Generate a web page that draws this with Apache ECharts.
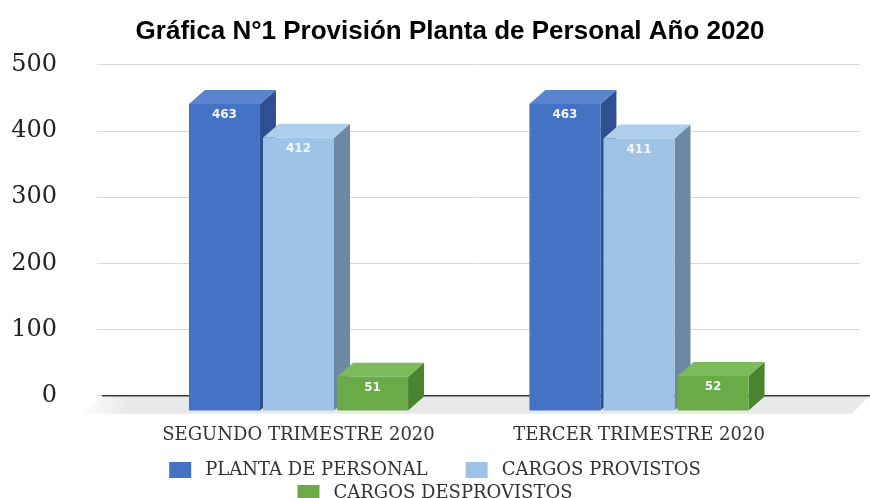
<!DOCTYPE html>
<html>
<head>
<meta charset="utf-8">
<script src="https://cdn.jsdelivr.net/npm/echarts@6/dist/echarts.min.js"></script>
<style>html,body{margin:0;padding:0;background:#fff;}#c{width:870px;height:498px;}</style>
</head>
<body>
<div id="c"></div>
<script>
const categories = ['SEGUNDO TRIMESTRE 2020', 'TERCER TRIMESTRE 2020'];
const seriesNames = ['PLANTA DE PERSONAL', 'CARGOS PROVISTOS', 'CARGOS DESPROVISTOS'];
const plantaPersonal = [463, 463];
const cargosProvistos = [412, 411];
const cargosDesprovistos = [51, 52];
const yTicks = [0, 100, 200, 300, 400, 500];

const palettes = [
  {front: '#4472C4', top: '#5A84CE', side: '#2E5090'},
  {front: '#9DC3E6', top: '#AECFEC', side: '#6C88A2'},
  {front: '#6AAB47', top: '#7DBA5C', side: '#4A8431'}
];
const DX = 16, DY = -14;

function barRenderer(idx) {
  const pal = palettes[idx];
  return function (params, api) {
    const cat = api.value(0), val = api.value(1);
    const base = api.coord([cat, 0]);
    const top = api.coord([cat, val]);
    const band = api.size([1, 0])[0];
    const pitch = band * 0.2175, w = band * 0.2085;
    const cx = base[0] + (idx - 1) * pitch;
    const x0 = cx - w / 2, x1 = cx + w / 2, yT = top[1], yB = base[1];
    return {
      type: 'group',
      children: [
        {type: 'polygon', shape: {points: [[x1, yT], [x1 + DX, yT + DY], [x1 + DX, yB + DY], [x1, yB]]}, style: {fill: pal.side}},
        {type: 'polygon', shape: {points: [[x0, yT], [x0 + DX, yT + DY], [x1 + DX, yT + DY], [x1, yT]]}, style: {fill: pal.top}},
        {type: 'rect', shape: {x: x0, y: yT, width: w, height: yB - yT}, style: {fill: pal.front}},
        {type: 'text', style: {text: String(val), x: cx, y: yT + 11, align: 'center', verticalAlign: 'middle', fill: '#F4F6FA', font: 'bold 12px "DejaVu Sans"'}}
      ]
    };
  };
}

function floorRenderer(params, api) {
  const cs = params.coordSys;
  const y0 = api.coord([0, 0])[1];
  const xl = cs.x + 5, xr = cs.x + cs.width + 10;
  return {
    type: 'group',
    children: [
      {type: 'polygon', shape: {points: [[xl, y0], [xr, y0], [xr - 18, y0 + 18], [xl - 22, y0 + 18]]},
       style: {fill: new echarts.graphic.LinearGradient(0, 0, 1, 0, [
         {offset: 0, color: '#ffffff'}, {offset: 0.06, color: '#e9e9e9'}, {offset: 1, color: '#e9e9e9'}])}},
      {type: 'line', shape: {x1: xl, y1: y0, x2: xr, y2: y0}, style: {stroke: '#3a3a3a', lineWidth: 1.5}}
    ]
  };
}

const dataSets = [plantaPersonal, cargosProvistos, cargosDesprovistos];
const legendText = {fontFamily: 'DejaVu Serif', fontSize: 18, color: '#333', padding: [0, 0, 0, 9]};

const chart = echarts.init(document.getElementById('c'));
chart.setOption({
  backgroundColor: '#ffffff',
  animation: false,
  title: {
    text: 'Gráfica N°1 Provisión Planta de Personal Año 2020',
    left: 445, top: 14, textAlign: 'center',
    textStyle: {fontFamily: 'Liberation Sans', fontWeight: 'bold', fontSize: 26, color: '#000'}
  },
  legend: [
    {data: [seriesNames[0], seriesNames[1]], left: 'center', top: 456, icon: 'rect', itemWidth: 22, itemHeight: 16, itemGap: 38,
     textStyle: legendText},
    {data: [seriesNames[2]], left: 'center', top: 479, icon: 'rect', itemWidth: 22, itemHeight: 16,
     textStyle: legendText}
  ],
  grid: [
    {left: 97, right: 10, top: 64.7, bottom: 102.3},
    {left: 128.25, right: 60.75, top: 79.5, bottom: 87.5}
  ],
  xAxis: [
    {type: 'value', gridIndex: 0, min: 0, max: 1, show: false},
    {type: 'category', gridIndex: 1, data: categories, axisLine: {show: false}, axisTick: {show: false},
     axisLabel: {interval: 0, hideOverlap: false, margin: 16, fontFamily: 'DejaVu Serif', fontSize: 18, color: '#333'}}
  ],
  yAxis: [
    {type: 'value', gridIndex: 0, min: 0, max: 500, interval: 100,
     axisLine: {show: false}, axisTick: {show: false},
     axisLabel: {margin: 40, fontFamily: 'DejaVu Serif', fontSize: 24, color: '#222',
       formatter: v => yTicks.includes(v) ? String(v) : ''},
     splitLine: {lineStyle: {color: '#d9d9d9', width: 1}}},
    {type: 'value', gridIndex: 1, min: 0, max: 500, interval: 100, show: false, splitLine: {show: false}}
  ],
  series: [
    {type: 'custom', name: 'floor', xAxisIndex: 0, yAxisIndex: 0, z: 1, silent: true,
     renderItem: floorRenderer, data: [[0, 0]]}
  ].concat(seriesNames.map((name, i) => ({
    type: 'custom', name: name, xAxisIndex: 1, yAxisIndex: 1, z: 2 + i,
    itemStyle: {color: palettes[i].front},
    encode: {x: 0, y: 1},
    renderItem: barRenderer(i),
    data: dataSets[i].map((v, k) => [k, v])
  })))
});
</script>
</body>
</html>
